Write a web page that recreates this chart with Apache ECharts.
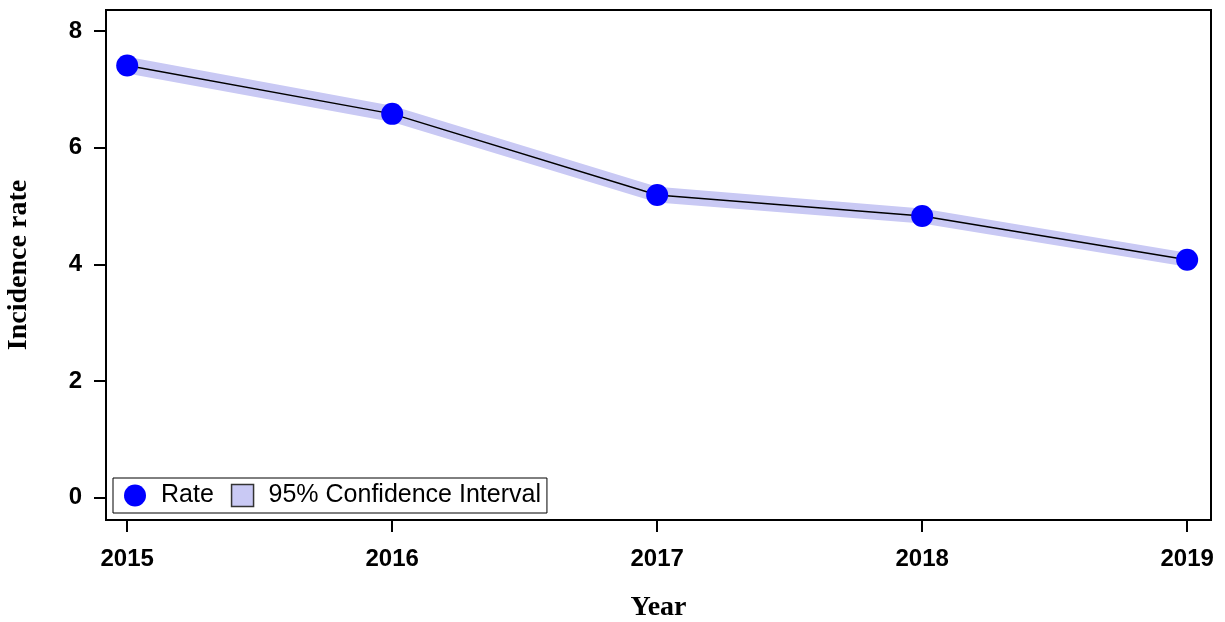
<!DOCTYPE html>
<html>
<head>
<meta charset="utf-8">
<script src="https://cdn.jsdelivr.net/npm/echarts@6/dist/echarts.min.js"></script>
<style>
  html, body { margin: 0; padding: 0; background: #fff; }
  #chart { width: 1225px; height: 622px; }
</style>
</head>
<body>
<div id="chart"></div>
<script>
// 데이터
var years = [2015, 2016, 2017, 2018, 2019];
var rate = [7.41, 6.58, 5.19, 4.83, 4.08];
var ciLower = [7.27, 6.44, 5.06, 4.70, 3.96];
var ciUpper = [7.56, 6.72, 5.33, 4.96, 4.20];
var yTicks = [0, 2, 4, 6, 8];

var chart = echarts.init(document.getElementById('chart'));

var bandData = years.map(function (y, i) { return [y, ciLower[i], ciUpper[i]]; });
var rateData = years.map(function (y, i) { return [y, rate[i]]; });

// 신뢰구간 밴드 (다각형 하나로 그림)
function renderBand(params, api) {
  if (params.dataIndex !== 0) return;
  var upper = [], lower = [];
  for (var i = 0; i < years.length; i++) {
    upper.push(api.coord([years[i], ciUpper[i]]));
    lower.unshift(api.coord([years[i], ciLower[i]]));
  }
  return {
    type: 'polygon',
    shape: { points: upper.concat(lower) },
    style: { fill: '#c9c9f4' }
  };
}

var option = {
  animation: false,
  grid: {
    left: 106,
    right: 14,
    top: 10,
    bottom: 102,
    outerBoundsMode: 'none',
    containLabel: false,
    show: true,
    borderColor: '#000',
    borderWidth: 2,
    backgroundColor: 'transparent'
  },
  legend: {
    left: 113,
    top: 478,
    orient: 'horizontal',
    borderColor: '#000',
    borderWidth: 1,
    borderRadius: 0,
    padding: [5, 6, 5, 11],
    itemGap: 17,
    itemWidth: 22,
    itemHeight: 22,
    textStyle: { fontFamily: 'Liberation Sans', fontSize: 25, color: '#000', padding: [0, 0, 0, 10] },
    data: [
      { name: 'Rate', icon: 'circle', itemStyle: { color: '#0000ff' } },
      { name: '95% Confidence Interval', icon: 'rect',
        itemStyle: { color: '#c9c9f4', borderColor: '#333', borderWidth: 1.5 } }
    ]
  },
  xAxis: {
    type: 'value',
    min: 2014.92,
    max: 2019.09,
    name: 'Year',
    nameLocation: 'middle',
    nameGap: 74,
    nameTextStyle: { fontFamily: 'Liberation Serif', fontWeight: 'bold', fontSize: 28, color: '#000' },
    axisLine: { show: true, onZero: false, lineStyle: { color: '#000', width: 2 } },
    axisTick: { show: true, customValues: years, length: 12, lineStyle: { color: '#000', width: 2 } },
    axisLabel: {
      customValues: years,
      margin: 27,
      fontFamily: 'Liberation Sans',
      fontWeight: 'bold',
      fontSize: 24,
      color: '#000',
      formatter: function (v) { return String(v); }
    },
    splitLine: { show: false }
  },
  yAxis: {
    type: 'value',
    min: -0.38,
    max: 8.36,
    name: 'Incidence rate',
    nameLocation: 'middle',
    nameGap: 73,
    nameRotate: 90,
    nameTextStyle: { fontFamily: 'Liberation Serif', fontWeight: 'bold', fontSize: 28, color: '#000' },
    axisLine: { show: true, onZero: false, lineStyle: { color: '#000', width: 2 } },
    axisTick: { show: true, customValues: yTicks, length: 12, lineStyle: { color: '#000', width: 2 } },
    axisLabel: {
      customValues: yTicks,
      margin: 24,
      fontFamily: 'Liberation Sans',
      fontWeight: 'bold',
      fontSize: 24,
      color: '#000'
    },
    splitLine: { show: false }
  },
  series: [
    {
      name: '95% Confidence Interval',
      type: 'custom',
      renderItem: renderBand,
      data: bandData,
      encode: { x: 0, y: [1, 2] },
      itemStyle: { color: '#c9c9f4' },
      silent: true,
      z: 1
    },
    {
      name: 'Rate',
      type: 'line',
      data: rateData,
      symbol: 'circle',
      symbolSize: 22,
      itemStyle: { color: '#0000ff' },
      lineStyle: { color: '#000', width: 1.5 },
      z: 5
    }
  ]
};

chart.setOption(option);
</script>
</body>
</html>
